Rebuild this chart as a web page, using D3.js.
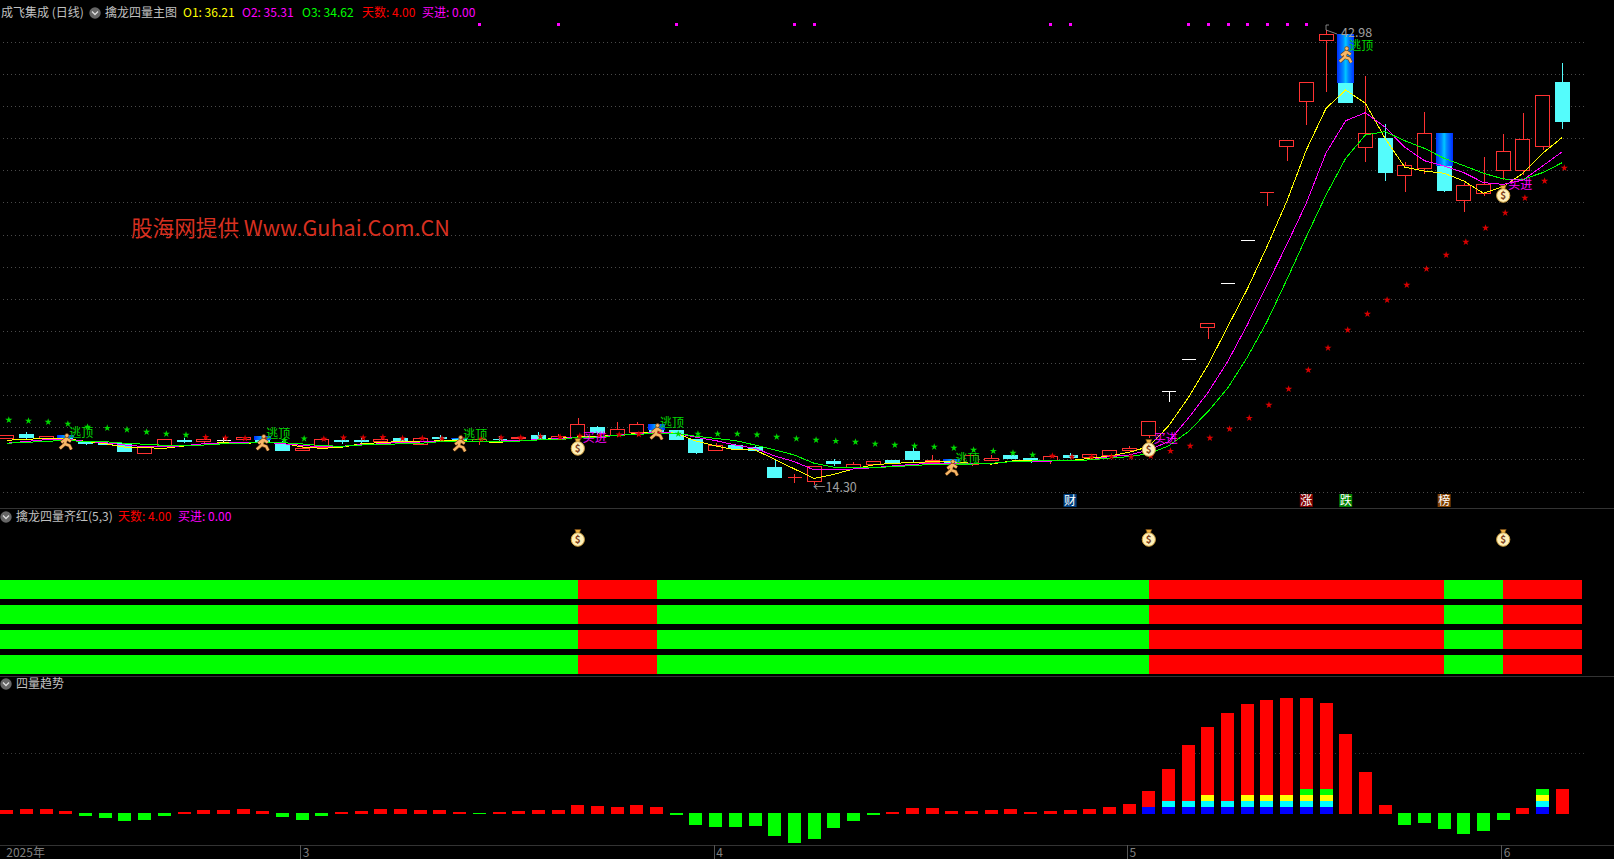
<!DOCTYPE html>
<html><head><meta charset="utf-8">
<script src="https://cdn.jsdelivr.net/npm/d3@7"></script>
<style>
html,body{margin:0;padding:0;background:#000;overflow:hidden}
svg{display:block}
text{font-family:"Noto Sans CJK SC","Noto Sans",sans-serif}
</style></head><body><svg id="c" width="1614" height="859"></svg>
<script>
const open=[17.28,17.52,17.24,17.24,17.03,16.97,16.97,16.34,16.78,17.14,17.10,17.12,17.16,17.12,16.91,16.49,16.68,17.14,17.14,17.10,17.26,16.91,17.31,17.20,17.10,17.18,17.26,17.45,17.16,17.35,17.96,17.45,17.64,17.77,17.77,17.20,16.53,16.82,16.68,15.44,14.80,14.57,15.81,15.44,15.62,15.88,16.44,15.75,15.77,15.62,15.88,16.19,16.00,15.88,16.19,16.07,16.19,16.53,17.45,20.21,22.22,24.26,27.01,29.72,32.74,35.65,38.46,42.37,39.64,35.59,36.15,33.86,34.26,34.41,32.22,32.66,34.11,34.11,35.62,39.68];
const close=[17.45,17.33,17.39,17.14,16.95,16.89,16.47,16.72,17.18,17.10,17.20,17.12,17.31,17.03,16.51,16.61,17.20,17.10,17.10,17.20,17.14,17.26,17.24,17.07,17.20,17.16,17.31,17.26,17.37,18.15,17.64,17.83,18.15,17.56,17.20,16.38,16.82,16.63,16.51,14.81,14.81,15.52,15.69,15.62,15.81,15.69,15.94,15.88,15.69,16.19,16.00,15.98,15.88,16.13,16.07,16.25,16.51,16.66,18.34,20.21,22.22,24.51,27.01,29.72,32.75,36.03,39.68,42.73,38.46,36.47,33.98,34.47,36.47,32.89,33.19,33.25,35.33,36.09,38.86,37.22];
const high=[17.45,17.64,17.39,17.24,17.03,16.97,16.97,16.72,17.18,17.24,17.28,17.33,17.31,17.12,17.07,16.72,17.20,17.31,17.28,17.39,17.26,17.26,17.43,17.20,17.20,17.41,17.31,17.64,17.52,18.52,18.02,18.27,18.27,17.77,17.77,17.20,16.95,16.89,16.82,15.88,14.99,15.52,15.94,15.75,15.81,15.88,16.70,16.19,15.77,16.19,16.19,16.19,16.00,16.13,16.32,16.25,16.51,16.76,18.34,20.21,22.22,24.51,27.01,29.72,32.75,36.03,39.68,42.98,39.64,40.08,37.04,34.66,37.81,34.41,33.36,34.97,36.41,37.73,38.86,40.91];
const low=[17.28,17.22,17.24,17.07,16.82,16.82,16.38,16.34,16.78,16.95,16.87,17.03,17.16,17.03,16.44,16.49,16.68,16.89,16.93,17.03,17.14,16.91,17.10,17.07,16.82,17.03,17.16,17.16,17.16,17.35,17.45,17.31,17.39,17.56,17.20,16.26,16.53,16.63,16.51,14.81,14.43,14.30,15.50,15.44,15.62,15.69,15.75,15.75,15.69,15.50,15.88,15.98,15.69,15.62,15.94,15.94,16.19,16.53,17.26,19.53,22.22,23.50,27.01,29.72,31.91,34.72,37.01,39.09,38.46,34.66,33.48,32.79,33.92,32.77,31.53,32.52,33.52,33.84,35.40,36.76];
const o1=[17.12,17.18,17.24,17.22,17.05,16.90,16.68,16.65,16.61,16.76,16.90,16.97,16.90,17.01,16.93,16.70,16.61,16.68,16.90,16.97,17.05,17.01,17.10,17.10,17.03,16.99,17.10,17.16,17.24,17.33,17.35,17.45,17.54,17.66,17.56,17.07,16.76,16.51,16.51,15.92,15.31,14.72,14.97,15.31,15.56,15.67,15.71,15.77,15.77,15.67,15.62,15.81,15.84,15.84,15.84,15.98,16.13,16.36,16.72,18.02,19.79,21.86,24.26,26.65,29.32,32.16,35.42,38.04,39.20,38.36,36.15,34.33,34.09,33.95,33.46,32.69,33.10,33.95,35.21,36.21];
const o2=[16.93,17.05,17.16,17.18,17.05,16.97,16.82,16.72,16.70,16.78,16.90,16.93,16.99,17.01,16.90,16.80,16.70,16.74,16.84,16.90,16.99,17.01,17.05,17.07,17.07,17.07,17.10,17.16,17.22,17.31,17.31,17.45,17.52,17.62,17.56,17.31,17.10,16.82,16.61,16.13,15.77,15.25,15.25,15.31,15.39,15.50,15.60,15.67,15.67,15.67,15.67,15.77,15.81,15.81,15.84,15.88,16.09,16.19,16.51,17.03,18.50,20.12,22.07,24.39,26.91,29.43,32.07,35.23,37.26,37.77,36.85,35.59,34.74,34.41,33.99,33.36,33.25,33.52,34.41,35.31];
const o3=[16.93,16.99,17.05,17.12,17.03,17.03,16.93,16.87,16.80,16.82,16.82,16.90,16.93,16.99,16.97,16.89,16.78,16.74,16.82,16.84,16.90,16.93,17.03,17.07,17.07,17.07,17.07,17.14,17.14,17.31,17.31,17.43,17.49,17.56,17.56,17.37,17.24,17.10,16.82,16.51,16.19,15.67,15.42,15.39,15.39,15.46,15.52,15.60,15.60,15.62,15.67,15.77,15.81,15.84,15.84,15.88,16.00,16.09,16.28,16.76,17.66,18.92,20.40,22.35,24.59,27.22,29.95,32.58,34.89,36.36,36.57,36.00,35.52,34.89,34.43,33.95,33.59,33.57,33.99,34.62];
const sar=[18.40,18.34,18.27,18.15,17.96,17.89,17.79,17.64,17.52,17.45,17.31,17.26,17.24,17.24,17.12,17.22,17.20,17.28,17.28,17.31,17.24,17.24,17.22,17.24,17.20,17.28,17.28,17.35,17.31,17.39,17.41,17.47,17.49,17.52,17.52,17.52,17.52,17.52,17.47,17.33,17.22,17.14,17.07,17.01,16.89,16.82,16.76,16.70,16.63,16.51,16.44,16.32,16.19,16.13,16.07,16.07,16.09,16.07,16.13,16.44,16.76,17.26,17.83,18.52,19.34,20.35,21.55,22.94,24.07,25.08,25.96,26.91,27.92,28.80,29.62,30.50,31.45,32.39,33.46,34.28];
const sarBelow=[0,0,0,0,0,0,0,0,0,0,1,1,1,1,0,0,1,1,1,1,1,1,1,1,1,1,1,1,1,1,1,1,1,1,0,0,0,0,0,0,0,0,0,0,0,0,0,0,0,0,0,0,0,1,1,1,1,1,1,1,1,1,1,1,1,1,1,1,1,1,1,1,1,1,1,1,1,1,1,1];
const topDots=[24,28,34,40,41,53,54,60,61,62,63,64,65,66];
const bandIdx=[3,13,23,33,48,68,73];
const bandTop=[17.45,17.39,17.28,18.15,15.94,42.73,36.49];
const bandBottom=[17.24,17.14,17.20,17.77,15.77,39.64,34.41];
const escapeIdx=[3,13,23,33,48,68];
const escapePrice=[17.01,16.95,16.89,17.64,15.37,41.40];
const buyIdx=[29,58,76];
const buyPrice=[16.70,16.63,32.64];
const badgeIdx=[54,66,68,73];
const badgeText=["财","涨","跌","榜"];
const badgeColor=["#004080","#800000","#008000","#804000"];
const gridPrices=[42.22,40.21,38.19,36.17,34.16,32.14,30.06,28.04,26.02,24.01,21.99,19.97,17.96,15.94,13.86];
const redRow=[0,0,0,0,0,0,0,0,0,0,0,0,0,0,0,0,0,0,0,0,0,0,0,0,0,0,0,0,0,1,1,1,1,0,0,0,0,0,0,0,0,0,0,0,0,0,0,0,0,0,0,0,0,0,0,0,0,0,1,1,1,1,1,1,1,1,1,1,1,1,1,1,1,0,0,0,1,1,1,1];
const rowNames=["q1","q2","q3","q4"];
const trend=[4,5,5,3,-3,-5,-8,-7,-3,2,4,4,5,3,-4,-7,-3,2,3,5,5,4,4,2,-1,2,3,4,4,9,8,7,9,7,-2,-12,-14,-14,-13,-23,-30,-26,-15,-8,-2,2,6,6,3,3,4,5,2,3,4,5,7,10,23,45,69,87,101,110,114,116,116,111,80,42,9,-12,-10,-16,-21,-18,-7,6,25,25];
const stackLevel=[0,0,0,0,0,0,0,0,0,0,0,0,0,0,0,0,0,0,0,0,0,0,0,0,0,0,0,0,0,0,0,0,0,0,0,0,0,0,0,0,0,0,0,0,0,0,0,0,0,0,0,0,0,0,0,0,0,0,1,2,2,3,2,3,3,3,4,4,0,0,0,0,0,0,0,0,0,0,4,0];
const stackEdges=[0,7,13,19,25];
const stackColors=["#0000ff","#00ffff","#ffff00","#00ff00"];
const monthIdx=[0,15,36,57,76];
const monthText=["2025年","3","4","5","6"];

const n=open.length;
const svg=d3.select("#c");
const x=d3.scalePoint().domain(d3.range(n)).range([6.8,1562.3]);
const step=x.step();
const y=d3.scaleLinear().domain([14.30,42.98]).range([485,30]);
const yT=d3.scaleLinear().domain([0,116]).range([814,698]);
const yRow=d3.scaleBand().domain(rowNames).range([580,674]).paddingInner(0.24);
const crisp=s=>s.attr("shape-rendering","crispEdges");

const grad=svg.append("defs").append("linearGradient").attr("id","band");
[[0,"#0030ff"],[0.35,"#0088ff"],[0.5,"#00c8ff"],[0.65,"#0088ff"],[1,"#0030ff"]].forEach(d=>grad.append("stop").attr("offset",d[0]).attr("stop-color",d[1]));

svg.append("g").selectAll("line").data([508,676,845]).join("line")
 .attr("x1",0).attr("x2",1614).attr("y1",d=>d+.5).attr("y2",d=>d+.5).attr("stroke","#333").call(crisp);
const gridDash="1 3";
svg.append("g").selectAll("line").data(gridPrices).join("line")
 .attr("x1",3).attr("x2",1584).attr("y1",d=>Math.round(y(d))+.5).attr("y2",d=>Math.round(y(d))+.5)
 .attr("stroke","#4a4a4a").attr("stroke-dasharray",gridDash).call(crisp);
svg.append("line").attr("x1",3).attr("x2",1584).attr("y1",753.5).attr("y2",753.5).attr("stroke","#3a3a3a").attr("stroke-dasharray",gridDash).call(crisp);

const idx=d3.range(n);
const colorOf=i=>close[i]>open[i]?"#ff3232":close[i]<open[i]?"#54fcfc":"#ffffff";
const cg=svg.append("g");
cg.selectAll("line").data(idx).join("line")
 .attr("x1",i=>Math.round(x(i))+.5).attr("x2",i=>Math.round(x(i))+.5)
 .attr("y1",i=>y(high[i])).attr("y2",i=>y(low[i])).attr("stroke",colorOf).call(crisp);
cg.selectAll("path").data(idx).join("path")
 .attr("d",i=>{
  const l=Math.round(x(i)-7.5)+.5, t=Math.round(y(Math.max(open[i],close[i])))+.5;
  const h=Math.round(Math.abs(y(open[i])-y(close[i])));
  return h>0?`M${l},${t}h14v${h}h-14Z`:`M${l},${t}h14`;
 })
 .attr("fill",i=>close[i]>open[i]?"#000":colorOf(i))
 .attr("stroke",colorOf).call(crisp);
svg.append("g").selectAll("rect").data(bandIdx).join("rect")
 .attr("x",d=>x(d)-8.5).attr("width",17)
 .attr("y",(d,i)=>y(bandTop[i])).attr("height",(d,i)=>y(bandBottom[i])-y(bandTop[i]))
 .attr("fill","url(#band)").call(crisp);
[[o1,"#ffff00"],[o2,"#ff00ff"],[o3,"#00ff00"]].forEach(([vals,col])=>{
 svg.append("path").attr("d",d3.line().x((d,i)=>x(i)).y(d=>y(d))(vals)).attr("fill","none").attr("stroke",col).attr("stroke-width",1).call(crisp);
});
const star=d3.symbol().type(d3.symbolStar).size(16);
svg.append("g").selectAll("path").data(idx).join("path").attr("d",star)
 .attr("transform",i=>`translate(${x(i)+2},${y(sar[i])})`)
 .attr("fill",i=>sarBelow[i]?"#d80000":"#00d800");
svg.append("g").selectAll("rect").data(topDots).join("rect")
 .attr("x",d=>x(d)-1).attr("y",23).attr("width",3).attr("height",3).attr("fill","#ff00ff").call(crisp);

function runner(g){
 const limbs="M-4.5,0.5L0.5,-3.5L5,-0.5M0.5,-3.5L-1,2M-1,2L-6,6.5M-1,2L3.5,3.5L5.5,7.5";
 g.append("path").attr("d",limbs).attr("fill","none").attr("stroke","#6a3a10").attr("stroke-width",3.6);
 g.append("path").attr("d",limbs).attr("fill","none").attr("stroke","#f8b868").attr("stroke-width",2.4);
 g.append("circle").attr("cx",1).attr("cy",-6.5).attr("r",2).attr("fill","#f8b868").attr("stroke","#6a3a10").attr("stroke-width",.7);
}
function bag(g){
 g.append("path").attr("d","M-3,-8.5L3,-8.5L1.5,-5L-1.5,-5Z").attr("fill","#f0b040").attr("stroke","#7a4a10").attr("stroke-width",.6);
 g.append("ellipse").attr("cx",0).attr("cy",1.5).attr("rx",6.6).attr("ry",6.8).attr("fill","#fff0b8").attr("stroke","#d0a040").attr("stroke-width",1);
 g.append("text").attr("x",0).attr("y",5).attr("text-anchor","middle").attr("font-size",10).attr("font-weight",700).attr("fill","#804020").text("$");
}
escapeIdx.forEach((d,i)=>{
 const g=svg.append("g").attr("transform",`translate(${x(d)},${y(escapePrice[i])})`);
 runner(g);
 g.append("text").attr("x",3.5).attr("y",-5).attr("font-size",12).attr("fill","#00d800").text("逃顶");
});
buyIdx.forEach((d,i)=>{
 const g=svg.append("g").attr("transform",`translate(${x(d)},${y(buyPrice[i])})`);
 bag(g);
 g.append("text").attr("x",5).attr("y",-5).attr("font-size",12).attr("fill","#ff00ff").text("买进");
});
const lowI=low.indexOf(d3.min(low)), highI=high.indexOf(d3.max(high));
svg.append("text").attr("x",x(lowI)-1).attr("y",y(low[lowI])+6.5).attr("font-size",12.5).attr("fill","#a0a0a0").text("←"+low[lowI].toFixed(2));
svg.append("path").attr("d",`M${x(highI)},${y(high[highI])-5}v5l11,4M${x(highI)},${y(high[highI])-5}h3`).attr("fill","none").attr("stroke","#a0a0a0").attr("stroke-width",.8);
svg.append("text").attr("x",x(highI)+15).attr("y",y(high[highI])+6.5).attr("font-size",12.5).attr("fill","#a0a0a0").text(high[highI].toFixed(2));
const bg=svg.append("g").selectAll("g").data(badgeIdx).join("g").attr("transform",d=>`translate(${x(d)},0)`);
bg.append("rect").attr("x",-6.5).attr("y",494).attr("width",13).attr("height",13).attr("fill",(d,i)=>badgeColor[i]);
bg.append("text").attr("y",505).attr("text-anchor","middle").attr("font-size",12).attr("fill","#fff").text((d,i)=>badgeText[i]);
svg.append("text").attr("x",131).attr("y",236).attr("font-size",21.6).attr("fill","#d83020").text("股海网提供 Www.Guhai.Com.CN");

function chevron(cx,cy){
 svg.append("circle").attr("cx",cx).attr("cy",cy).attr("r",5.7).attr("fill","#666");
 svg.append("path").attr("d",`M${cx-3},${cy-1.5}L${cx},${cy+1.5}L${cx+3},${cy-1.5}`).attr("fill","none").attr("stroke","#ddd").attr("stroke-width",1.3);
}
function label(t,px,py,col){svg.append("text").attr("x",px).attr("y",py).attr("font-size",12).attr("fill",col).text(t);}
label("成飞集成 (日线)",1,17,"#c0c0c0");
chevron(95,13);
label("擒龙四量主图",105,17,"#c0c0c0");
label("O1: "+o1[n-1].toFixed(2),183,17,"#ffff00");
label("O2: "+o2[n-1].toFixed(2),242,17,"#ff00ff");
label("O3: "+o3[n-1].toFixed(2),302,17,"#00ff00");
label("天数: 4.00",362,17,"#ff0000");
label("买进: 0.00",422,17,"#ff00ff");
chevron(6,517);
label("擒龙四量齐红(5,3)",16,521,"#c0c0c0");
label("天数: 4.00",118,521,"#ff0000");
label("买进: 0.00",178,521,"#ff00ff");
chevron(6,684);
label("四量趋势",16,688,"#c0c0c0");

rowNames.forEach(r=>{
 svg.append("g").selectAll("rect").data(idx).join("rect")
  .attr("x",i=>i===0?0:x(i)).attr("width",i=>i===0?x(0)+step:step+.5)
  .attr("y",yRow(r)).attr("height",yRow.bandwidth())
  .attr("fill",i=>redRow[i]?"#ff0000":"#00ff00").call(crisp);
});
buyIdx.forEach(d=>bag(svg.append("g").attr("transform",`translate(${x(d)},538)`)));

const tg=svg.append("g");
tg.selectAll("rect").data(idx).join("rect")
 .attr("x",i=>x(i)-6.5).attr("width",13)
 .attr("y",i=>trend[i]>=0?yT(trend[i]):yT(0)-1)
 .attr("height",i=>Math.abs(yT(trend[i])-yT(0)))
 .attr("fill",i=>trend[i]>=0?"#ff0000":"#00ff00").call(crisp);
idx.filter(i=>stackLevel[i]>0).forEach(i=>{
 d3.range(stackLevel[i]).forEach(l=>{
  tg.append("rect").attr("x",x(i)-6.5).attr("width",13)
   .attr("y",yT(stackEdges[l+1])).attr("height",yT(stackEdges[l])-yT(stackEdges[l+1]))
   .attr("fill",stackColors[l]).call(crisp);
 });
});

const axis=d3.axisBottom(x).tickValues(monthIdx).tickSize(14).tickFormat(i=>monthText[monthIdx.indexOf(i)]);
const ag=svg.append("g").attr("transform","translate(-2,845)").call(axis);
ag.select(".domain").remove();
ag.selectAll(".tick line").attr("stroke","#555").attr("display",i=>i===0?"none":null).call(crisp);
ag.selectAll(".tick text").attr("x",i=>i===0?1:2).attr("y",3).attr("dy","0.71em").attr("text-anchor","start").attr("font-size",12).attr("fill","#808080")
 .style("font-family",'"Noto Sans CJK SC"');
</script></body></html>
